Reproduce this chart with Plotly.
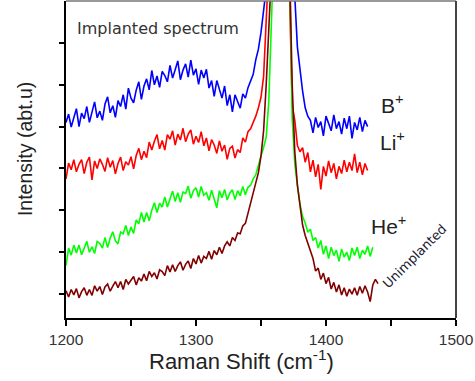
import plotly.graph_objects as go

# Raman shift grid (cm^-1), step 2
raman_shift = list(range(1200, 1442, 2))

b_implanted = [4.10, 4.30, 3.99, 4.21, 4.43, 4.00, 4.32, 4.19, 4.48, 4.10,
               4.38, 4.59, 4.21, 4.37, 4.15, 4.54, 4.71, 4.33, 4.50, 4.22,
               4.62, 4.48, 4.76, 4.42, 4.92, 4.68, 4.57, 4.87, 5.07, 4.65,
               4.97, 5.14, 4.88, 5.34, 5.00, 5.21, 4.94, 5.32, 5.22, 5.07,
               5.46, 5.16, 5.36, 5.57, 5.12, 5.35, 5.50, 5.18, 5.59, 5.23,
               5.38, 5.01, 5.35, 5.16, 5.37, 4.92, 5.10, 4.72, 5.10, 4.91,
               4.68, 4.97, 4.50, 4.76, 4.35, 4.76, 4.62, 4.44, 4.78, 4.68,
               4.93,
               5.10, 5.25, 5.60, 5.85, 6.25, 6.70, 7.30, 8.0, 9.0, 10.5,
               12.0, 13.0, 12.5, 11.0, 9.5, 8.5, 7.7, 7.1,
               5.90, 5.35, 4.85, 4.45, 4.25,
               4.15, 3.85, 4.22, 3.98, 4.12, 3.78, 4.25, 4.05, 3.90, 4.28,
               3.95, 4.12, 3.82, 4.20, 3.95, 4.25, 3.72, 4.10, 3.92, 4.22,
               3.88, 4.15, 4.00]

li_implanted = [2.75, 3.13, 2.97, 3.21, 2.92, 3.10, 3.21, 2.88, 3.15, 3.27,
                2.73, 3.18, 3.00, 3.23, 3.10, 2.93, 3.26, 3.03, 3.19, 2.87,
                3.12, 3.27, 2.95, 3.16, 3.08, 3.28, 2.99, 3.31, 3.48, 3.21,
                3.41, 3.26, 3.63, 3.44, 3.65, 3.81, 3.47, 3.67, 3.44, 3.81,
                3.70, 3.90, 3.56, 3.82, 3.68, 3.96, 3.64, 3.82, 3.92, 3.58,
                3.77, 3.62, 3.88, 3.54, 3.73, 3.42, 3.69, 3.56, 3.36, 3.66,
                3.41, 3.56, 3.22, 3.48, 3.53, 3.25, 3.45, 3.38, 3.73, 3.63,
                3.88,
                3.95, 4.10, 4.25, 4.45, 4.70, 5.20, 6.20, 7.10, 8.5, 10.5,
                12.5, 13.5, 13.0, 11.0, 8.5, 7.1,
                4.50, 4.15, 3.55, 3.40, 3.50,
                3.15, 3.38, 2.92, 3.20, 2.80, 3.10, 2.50, 3.05, 2.82, 3.18,
                2.90, 3.12, 2.75, 3.05, 2.88, 3.20, 2.92, 3.15, 2.95, 3.35,
                2.90, 3.15, 2.85, 3.12, 2.95]

he_implanted = [0.68, 1.10, 0.93, 1.17, 0.98, 1.17, 0.94, 1.12, 1.26, 1.00,
                1.13, 0.97, 1.26, 1.21, 1.10, 1.35, 1.11, 1.34, 1.49, 1.27,
                1.20, 1.48, 1.44, 1.64, 1.40, 1.60, 1.45, 1.77, 1.68, 1.95,
                1.72, 1.95, 1.75, 2.00, 2.18, 1.95, 2.17, 2.08, 2.32, 2.08,
                2.28, 2.46, 2.21, 2.42, 2.19, 2.44, 2.40, 2.58, 2.29, 2.47,
                2.54, 2.32, 2.57, 2.36, 2.42, 2.24, 2.48, 2.29, 2.06, 2.47,
                2.30, 2.50, 2.25, 2.41, 2.49, 2.26, 2.47, 2.35, 2.57, 2.37,
                2.55,
                2.60, 2.75, 2.85, 3.10, 3.30, 3.50, 3.75, 4.60, 6.20, 8.0,
                10.5, 13.0, 14.0, 13.0, 10.5, 7.8,
                4.20, 3.10, 2.60, 2.15, 1.85,
                1.70, 1.48, 1.55, 1.28, 1.35, 1.10, 1.28, 0.95, 1.15, 0.85,
                1.12, 0.92, 1.05, 0.78, 1.08, 0.88, 1.00, 0.80, 1.10, 0.92,
                1.12, 0.85, 1.05, 0.95, 1.15, 0.90, 1.12]

unimplanted = [0.08, -0.07, 0.11, -0.02, 0.13, -0.09, 0.06, 0.15, -0.03, 0.11,
               -0.03, 0.20, 0.07, 0.18, -0.01, 0.17, 0.24, 0.07, 0.19, 0.30,
               0.15, 0.30, 0.11, 0.35, 0.24, 0.33, 0.42, 0.22, 0.39, 0.31,
               0.48, 0.32, 0.54, 0.42, 0.51, 0.36, 0.58, 0.54, 0.44, 0.68,
               0.53, 0.70, 0.54, 0.68, 0.77, 0.57, 0.71, 0.79, 0.61, 0.85,
               0.72, 0.92, 0.74, 0.90, 0.85, 1.02, 0.83, 1.04, 0.94, 1.12,
               0.97, 1.15, 1.25, 1.15, 1.35, 1.28, 1.46, 1.44, 1.63, 1.69,
               1.93,
               2.15, 2.35, 2.60, 2.90, 3.30, 3.90, 5.00, 6.00, 7.20, 9.0,
               11.5, 13.5, 13.5, 12.0, 10.0, 7.8, 5.0,
               3.40, 2.60, 2.10, 1.65, 1.40, 1.20, 1.00, 0.85,
               0.55, 0.62, 0.35, 0.50, 0.25, 0.40, 0.12, 0.28, 0.05, 0.22,
               -0.02, 0.15, -0.05, 0.12, 0.00, 0.15, -0.03, 0.18, 0.02, 0.20,
               0.05, -0.18, 0.22, 0.35, 0.25]

series = [
    ("B+", b_implanted, "#0000ff"),
    ("Li+", li_implanted, "#ff0000"),
    ("He+", he_implanted, "#00ff00"),
    ("Unimplanted", unimplanted, "#800000"),
]

x_major = [1200, 1300, 1400, 1500]
x_minor = [1250, 1350, 1450]
y_tick_vals = [0, 1, 2, 3, 4, 5, 6]

fig = go.Figure()
for name, vals, color in series:
    fig.add_trace(go.Scatter(
        x=raman_shift[:len(vals)], y=vals, mode="lines", name=name,
        line=dict(color=color, width=1.6), showlegend=False,
    ))

font_family = "Liberation Sans, Arial, sans-serif"

fig.update_layout(
    width=475, height=381,
    margin=dict(l=66, r=19, t=1, b=63),
    paper_bgcolor="white", plot_bgcolor="white",
    font=dict(family=font_family, color="#222"),
    xaxis=dict(
        range=[1200, 1500], tickmode="array", tickvals=x_major,
        ticks="outside", ticklen=6, tickwidth=1.5, tickcolor="#000",
        minor=dict(tickmode="array", tickvals=x_minor, ticks="outside",
                   ticklen=6, tickwidth=1.5, tickcolor="#000", showgrid=False),
        showline=True, linecolor="#000", linewidth=2, showgrid=False,
        zeroline=False, tickfont=dict(size=15.5, color="#333"),
    ),
    yaxis=dict(
        range=[-0.571, 7.0], tickvals=y_tick_vals, showticklabels=False,
        ticks="outside", ticklen=5, tickwidth=1.5, tickcolor="#000",
        showline=True, linecolor="#000", linewidth=2, showgrid=False,
        zeroline=False,
    ),
)

# top / right frame
fig.add_shape(type="line", xref="paper", yref="paper", x0=0, x1=1, y0=1, y1=1,
              line=dict(color="#777", width=1.5))
fig.add_shape(type="line", xref="paper", yref="paper", x0=1, x1=1, y0=0, y1=1,
              line=dict(color="#444", width=2))

ann = [
    dict(text="Implanted spectrum", x=1207, y=6.35, xanchor="left", yanchor="middle",
         font=dict(size=16, color="#333", family="DejaVu Sans")),
    dict(text="B<sup>+</sup>", x=1441, y=4.55, xanchor="left", yanchor="middle",
         font=dict(size=21, color="#222")),
    dict(text="Li<sup>+</sup>", x=1440, y=3.65, xanchor="left", yanchor="middle",
         font=dict(size=21, color="#222")),
    dict(text="He<sup>+</sup>", x=1433, y=1.65, xanchor="left", yanchor="middle",
         font=dict(size=21, color="#222")),
    dict(text="Unimplanted", x=1468, y=0.9, xanchor="center", yanchor="middle",
         textangle=-45, font=dict(size=13, color="#223", family="DejaVu Sans")),
]
for a in ann:
    fig.add_annotation(xref="x", yref="y", showarrow=False, **a)

fig.add_annotation(text="Intensity (abt.u)", xref="paper", yref="paper",
                   x=-0.105, y=0.533, xanchor="center", yanchor="middle",
                   textangle=-90, showarrow=False, font=dict(size=19.5, color="#222"))
fig.add_annotation(text="Raman Shift (cm<sup>-1</sup>)", xref="paper", yref="paper",
                   x=0.449, y=-0.132, xanchor="center", yanchor="middle",
                   showarrow=False, font=dict(size=22, color="#222"))

fig.write_html("out.html", config={"displayModeBar": False},
               post_script="document.body.style.margin='0px';")
